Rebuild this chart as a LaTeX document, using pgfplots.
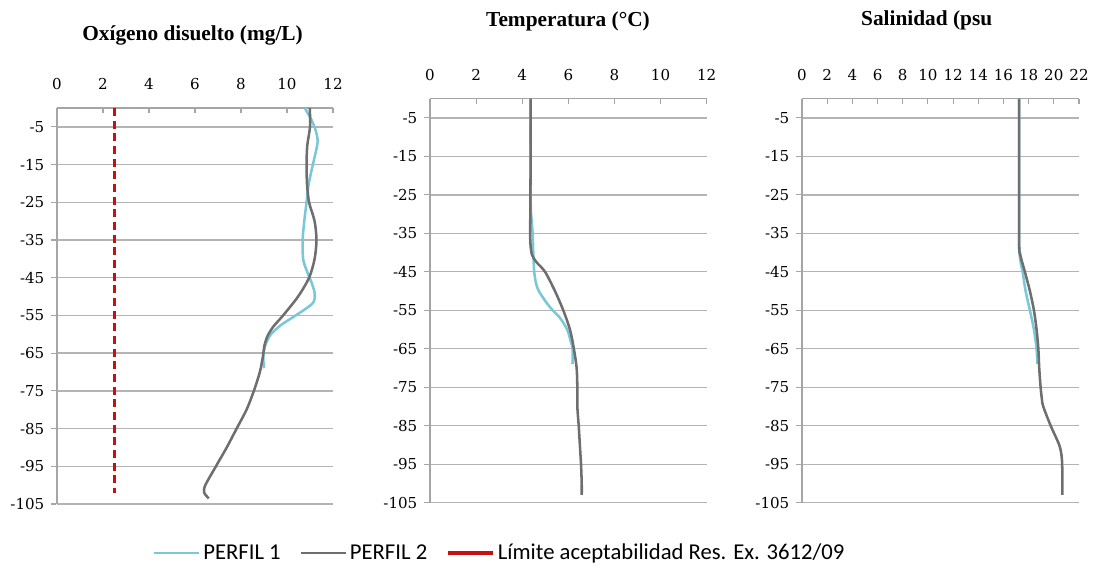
\documentclass[border=0pt]{standalone}
\usepackage{fontspec}
\setmainfont{Liberation Serif}
\newfontfamily\legfont{Carlito}
\newfontfamily\serfam{Liberation Serif}
\newfontfamily\tickfam{DejaVu Serif}
\usepackage{pgfplots}
\pgfplotsset{compat=1.18}

\definecolor{perfila}{RGB}{122,199,216}
\definecolor{perfilb}{RGB}{110,110,110}
\definecolor{limite}{RGB}{200,16,16}
\definecolor{gridc}{RGB}{180,180,180}
\definecolor{axc}{RGB}{165,165,165}

\newcommand{\mytickfont}{\tickfam\fontsize{11.3}{13}\selectfont}
\newcommand{\mytitfont}{\serfam\fontsize{16}{19}\selectfont\bfseries}

\pgfplotsset{
  perfil/.style={
    scale only axis,
    enlargelimits=false,
    axis x line=top,
    axis y line=left,
    axis line style={axc, line width=1pt, -},
    tick align=inside,
    major tick length=4pt,
    tick style={axc, line width=0.8pt},
    y tick style={xshift=-4.5pt},
    ymin=-105, ymax=0,
    ytick={-5,-15,...,-105},
    ymajorgrids,
    grid style={gridc, line width=1pt},
    ticklabel style={font=\mytickfont},
    /pgf/number format/assume math mode=true,
    xticklabel style={yshift=10pt},
    yticklabel style={xshift=-6pt},
    clip=false,
  },
  p1/.style={perfila, line width=1.9pt, smooth},
  p2/.style={perfilb, line width=1.9pt, smooth},
}

\begin{document}
\begin{tikzpicture}
\path (0pt,0pt) rectangle (820.5pt,-429pt);

% Oxigeno disuelto
\begin{axis}[perfil,
  at={(42.75pt,-378pt)}, anchor=south west,
  width=207pt, height=297pt,
  xmin=0, xmax=12, xtick={0,2,...,12},
  legend style={at={(1.605,-0.124)}, anchor=center, draw=none, fill=none,
    font={\legfont\fontsize{17}{20}\selectfont}, legend columns=3,
    /tikz/every even column/.append style={column sep=12pt}},
  legend image code/.code={\draw[#1,solid] (0pt,0pt) -- (34pt,0pt);},
]
\addplot[p1] coordinates {
 (10.77,0) (11.05,-3) (11.25,-6) (11.33,-9) (11.2,-13) (11.05,-17)
 (10.92,-21) (10.85,-25) (10.75,-30) (10.68,-35) (10.7,-40) (10.85,-43)
 (11.05,-46) (11.2,-49) (11.15,-51.5) (10.75,-53.5) (10.25,-55.5)
 (9.75,-57.5) (9.3,-60) (9.05,-63) (8.97,-66) (9.0,-69)};
\addlegendentry{PERFIL 1}
\addplot[p2] coordinates {
 (10.99,0) (11.0,-5) (10.88,-10) (10.85,-15) (10.87,-20) (10.96,-25)
 (11.2,-30) (11.28,-35) (11.2,-40) (10.96,-45) (10.48,-50) (9.83,-55)
 (9.4,-58) (9.15,-60.5) (9.02,-63) (8.95,-66) (8.82,-70) (8.56,-75)
 (8.24,-80) (7.81,-85) (7.38,-90) (6.91,-95) (6.45,-100) (6.4,-102)
 (6.6,-103.5)};
\addlegendentry{PERFIL 2}
\addplot[limite, line width=1.7pt, dash pattern=on 6pt off 3.5pt, forget plot]
 coordinates {(2.5,0) (2.5,-102)};
\addlegendimage{limite, line width=3pt}
\addlegendentry{Límite aceptabilidad Res. Ex. 3612/09}
\end{axis}

% Temperatura
\begin{axis}[perfil,
  at={(322.5pt,-377pt)}, anchor=south west,
  width=207.5pt, height=303pt,
  xmin=0, xmax=12, xtick={0,2,...,12},
]
\addplot[p1] coordinates {
 (4.36,0) (4.36,-15) (4.37,-28) (4.4,-31) (4.45,-35) (4.48,-40)
 (4.52,-45) (4.6,-48) (4.72,-50) (5.05,-53) (5.32,-55) (5.64,-57)
 (5.95,-60) (6.1,-63) (6.18,-65) (6.18,-69)};
\addplot[p2] coordinates {
 (4.36,0) (4.36,-10) (4.36,-20) (4.35,-30) (4.35,-37) (4.42,-40.5)
 (4.62,-42.5) (4.99,-45) (5.42,-50) (5.78,-55) (6.07,-60) (6.24,-65)
 (6.36,-70) (6.39,-75) (6.39,-80) (6.45,-85) (6.5,-90) (6.55,-95)
 (6.58,-100) (6.58,-103)};
\end{axis}

% Salinidad
\begin{axis}[perfil,
  at={(601.5pt,-377pt)}, anchor=south west,
  width=207.75pt, height=303pt,
  xmin=0, xmax=22, xtick={0,2,...,22},
]
\addplot[p1] coordinates {
 (17.25,0) (17.25,-20) (17.25,-38) (17.3,-41) (17.39,-43) (17.52,-45)
 (17.76,-50) (18.1,-55) (18.42,-60) (18.63,-65) (18.69,-69)};
\addplot[p2] coordinates {
 (17.25,0) (17.25,-20) (17.25,-38) (17.3,-40) (17.44,-42) (17.7,-45)
 (18.1,-50) (18.42,-55) (18.63,-60) (18.77,-65) (18.84,-70) (18.95,-75)
 (19.05,-78) (19.16,-80) (19.75,-85) (20.43,-90) (20.62,-93)
 (20.67,-96) (20.67,-100) (20.67,-103)};
\end{axis}

\node[anchor=base, font=\mytitfont] at (144.4pt,-30pt) {Oxígeno disuelto (mg/L)};
\node[anchor=base, font=\mytitfont] at (426pt,-19.5pt) {Temperatura (°C)};
\node[anchor=base, font=\mytitfont] at (695pt,-18.75pt) {Salinidad (psu};
\end{tikzpicture}
\end{document}
